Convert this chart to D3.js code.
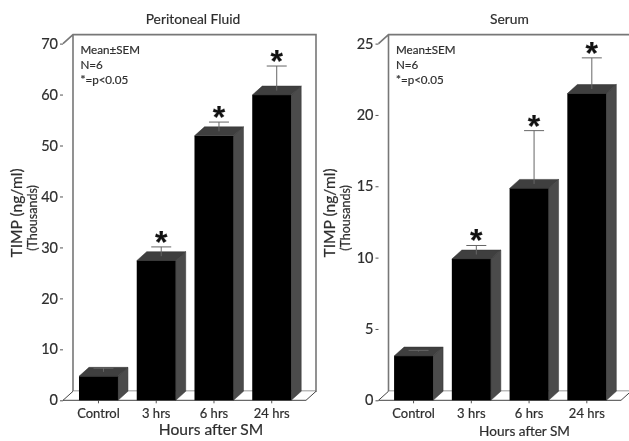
<!DOCTYPE html>
<html>
<head>
<meta charset="utf-8">
<script src="https://cdn.jsdelivr.net/npm/d3@7"></script>
<style>
  html, body { margin: 0; padding: 0; background: #fff; }
  svg { display: block; filter: blur(0.4px); }
  text { font-family: Lato, "Open Sans", sans-serif; fill: #2e2e2e; stroke: #2e2e2e; stroke-width: 0.2px; }
</style>
</head>
<body>
<div id="chart"></div>
<script>
const categories = ['Control', '3 hrs', '6 hrs', '24 hrs'];
const notes = ['Mean±SEM', 'N=6', '*=p<0.05'];

const fluidValues = [4.7, 27.4, 51.9, 59.9];
const fluidErrTop = [6.3, 30.1, 54.6, 65.6];
const fluidStars = [false, true, true, true];
const fluidTicks = [0, 10, 20, 30, 40, 50, 60, 70];

const serumValues = [3.1, 9.9, 14.85, 21.5];
const serumErrTop = [3.5, 10.85, 18.9, 24];
const serumStars = [false, true, true, true];
const serumTicks = [0, 5, 10, 15, 20, 25];

const w = 629,
    h = 441,
    depthX = 10,
    depthY = 9,
    y0 = 400.3,
    y1 = 43.6;

const svg = d3.select('#chart')
  .append('svg')
  .attr('width', w)
  .attr('height', h);

function drawPanel(p) {
  const g = svg.append('g');

  const yScale = d3.scaleLinear()
    .domain([0, p.ticks[p.ticks.length - 1]])
    .range([y0, y1]);

  const xScale = d3.scaleBand()
    .domain(categories)
    .range([p.barLeft, p.barLeft + 231])
    .paddingInner(0.325)
    .paddingOuter(0.1625);

  // back wall and floor
  const backL = p.left + depthX,
      backR = p.right + depthX,
      backTop = y1 - depthY,
      backBottom = y0 - depthY;

  g.append('path')
    .attr('d', `M${p.left},${y1}L${backL},${backTop}H${backR}V${backBottom}H${backL}V${backTop}`)
    .attr('fill', 'none')
    .attr('stroke', '#777')
    .attr('stroke-width', 1.6);

  g.append('path')
    .attr('d', `M${backL},${backBottom}L${p.left},${y0}H${p.right}L${backR},${backBottom}`)
    .attr('fill', '#fff')
    .attr('stroke', '#444')
    .attr('stroke-width', 1);

  const yAxis = d3.axisLeft(yScale)
    .tickValues(p.ticks)
    .tickSize(3)
    .tickPadding(2);

  const yG = g.append('g')
    .attr('transform', `translate(${p.left},0)`)
    .call(yAxis);
  yG.select('.domain').remove();
  yG.selectAll('line').attr('stroke', '#555');
  yG.selectAll('text').style('font-size', '14.5px').style('font-family', 'Lato, sans-serif');

  const xAxis = d3.axisBottom(xScale)
    .tickSize(3)
    .tickPadding(5);

  const xG = g.append('g')
    .attr('transform', `translate(0,${y0})`)
    .call(xAxis);
  xG.select('.domain').remove();
  xG.selectAll('line').attr('stroke', '#555');
  xG.selectAll('text').style('font-size', '13px').style('font-family', 'Lato, sans-serif');

  // bars: side, top, front
  const bars = g.selectAll('.bar')
    .data(categories)
    .enter()
    .append('g')
    .attr('class', 'bar');

  const bw = xScale.bandwidth();

  bars.append('path')
    .attr('fill', '#4b4b4b')
    .attr('stroke', '#333')
    .attr('stroke-width', 0.5)
    .attr('d', (d, i) => {
      const x = xScale(d) + bw, t = yScale(p.values[i]);
      return `M${x},${t}L${x + depthX},${t - depthY}V${y0 - depthY}L${x},${y0}Z`;
    });

  bars.append('path')
    .attr('fill', '#3f3f3f')
    .attr('stroke', '#333')
    .attr('stroke-width', 0.5)
    .attr('d', (d, i) => {
      const x = xScale(d), t = yScale(p.values[i]);
      return `M${x},${t}L${x + depthX},${t - depthY}H${x + bw + depthX}L${x + bw},${t}Z`;
    });

  // error bars sit on the middle of the top face
  bars.append('line')
    .attr('x1', d => xScale(d) + bw / 2 + depthX / 2)
    .attr('x2', d => xScale(d) + bw / 2 + depthX / 2)
    .attr('y1', (d, i) => yScale(p.values[i]) - depthY / 2)
    .attr('y2', (d, i) => yScale(p.errTop[i]))
    .attr('stroke', '#666')
    .attr('stroke-width', 1);

  bars.append('line')
    .attr('x1', d => xScale(d) + bw / 2 + depthX / 2 - 10)
    .attr('x2', d => xScale(d) + bw / 2 + depthX / 2 + 10)
    .attr('y1', (d, i) => yScale(p.errTop[i]))
    .attr('y2', (d, i) => yScale(p.errTop[i]))
    .attr('stroke', '#666')
    .attr('stroke-width', 1);

  bars.append('rect')
    .attr('x', d => xScale(d))
    .attr('y', (d, i) => yScale(p.values[i]))
    .attr('width', bw)
    .attr('height', (d, i) => y0 - yScale(p.values[i]))
    .attr('fill', '#000');

  bars.filter((d, i) => p.stars[i])
    .append('text')
    .attr('x', d => xScale(d) + bw / 2 + depthX / 2)
    .attr('y', d => yScale(p.errTop[categories.indexOf(d)]) + 6)
    .attr('text-anchor', 'middle')
    .style('font-family', '"Liberation Sans", sans-serif')
    .style('font-weight', 'bold')
    .style('font-size', '32px')
    .style('fill', '#111')
    .text('*');

  // note block
  g.selectAll('.note')
    .data(notes)
    .enter()
    .append('text')
    .attr('class', 'note')
    .attr('x', backL + 7.5)
    .attr('y', (d, i) => 54 + i * 15)
    .style('font-size', '11.6px')
    .text(d => d);

  g.append('text')
    .attr('x', p.titleX)
    .attr('y', 24)
    .attr('text-anchor', 'middle')
    .style('font-size', '13.8px')
    .text(p.title);

  g.append('text')
    .attr('x', p.xLabelX)
    .attr('y', p.xLabelY)
    .attr('text-anchor', 'middle')
    .style('font-size', p.xLabelSize)
    .text('Hours after SM');

  g.append('text')
    .attr('transform', `translate(${p.yLabelX},213) rotate(-90)`)
    .attr('text-anchor', 'middle')
    .style('font-size', '15.6px')
    .text('TIMP (ng/ml)');

  g.append('text')
    .attr('transform', `translate(${p.yLabelX + 15},218) rotate(-90)`)
    .attr('text-anchor', 'middle')
    .style('font-size', '12.5px')
    .text('(Thousands)');
}

drawPanel({
  title: 'Peritoneal Fluid', titleX: 193,
  values: fluidValues, errTop: fluidErrTop, stars: fluidStars, ticks: fluidTicks,
  left: 63, right: 306, barLeft: 69.6,
  xLabelX: 211, xLabelY: 435, xLabelSize: '15.6px', yLabelX: 22
});

drawPanel({
  title: 'Serum', titleX: 509.5,
  values: serumValues, errTop: serumErrTop, stars: serumStars, ticks: serumTicks,
  left: 378.5, right: 621, barLeft: 384.7,
  xLabelX: 524.5, xLabelY: 436, xLabelSize: '13.6px', yLabelX: 335
});
</script>
</body>
</html>
